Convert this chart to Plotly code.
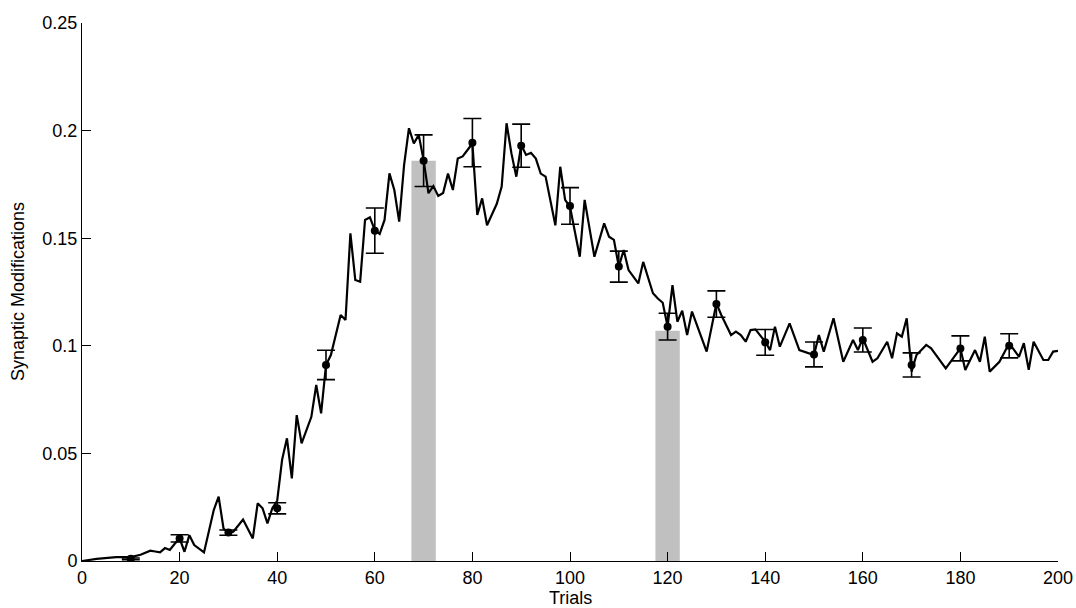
import plotly.graph_objects as go

# Mean synaptic modification per trial
trials = [0, 3, 7, 10, 12, 14, 15, 16, 17, 18, 19, 20, 21, 22, 23, 24, 25,
          27, 28, 29, 30, 31, 33, 35, 36, 37, 38, 39, 40, 41, 42, 43, 44, 45,
          47, 48, 49, 50, 51, 53, 54, 55, 56, 57, 58, 59, 60, 61, 62, 63, 64,
          65, 66, 67, 68, 69, 70, 71, 72, 73, 74, 75, 76, 77, 78, 79, 80, 81,
          82, 83, 85, 86, 87, 88, 89, 90, 91, 92, 93, 94, 95, 97, 98, 99, 100,
          102, 103, 105, 107, 108, 109, 110, 111, 112, 114, 115, 117, 118, 119,
          120, 121, 122, 123, 124, 125, 128, 130, 131, 133, 134, 135, 136, 137,
          138, 140, 141, 142, 143, 145, 147, 148, 150, 151, 152, 154, 156, 158,
          159, 160, 162, 163, 165, 166, 167, 168, 169, 170, 171, 173, 174, 177,
          179, 180, 181, 183, 184, 185, 186, 188, 190, 192, 193, 194, 195, 197,
          198, 199, 200]
modification = [0.0, 0.001, 0.0018, 0.0018, 0.0029, 0.0048, 0.0044, 0.004,
                0.006, 0.0051, 0.008, 0.0105, 0.0043, 0.012, 0.0074, 0.0059,
                0.004, 0.0237, 0.0299, 0.0151, 0.0131, 0.0136, 0.0193, 0.0105,
                0.0268, 0.0245, 0.0175, 0.0245, 0.028, 0.047, 0.057, 0.0384,
                0.0678, 0.0547, 0.067, 0.0818, 0.0686, 0.0911, 0.0957, 0.1143,
                0.112, 0.1523, 0.1306, 0.1298, 0.1585, 0.1597, 0.1538, 0.152,
                0.1585, 0.1801, 0.1724, 0.1577, 0.184, 0.2011, 0.194, 0.198,
                0.1863, 0.1709, 0.1742, 0.1696, 0.171, 0.180, 0.1724, 0.187,
                0.188, 0.191, 0.194, 0.1608, 0.1685, 0.156, 0.166, 0.174,
                0.2034, 0.1894, 0.1786, 0.1933, 0.1887, 0.1897, 0.187, 0.180,
                0.1786, 0.156, 0.1832, 0.1678, 0.1646, 0.1414, 0.1678, 0.1414,
                0.1569, 0.1507, 0.1492, 0.1368, 0.1445, 0.1352, 0.129, 0.139,
                0.1244, 0.122, 0.12, 0.1089, 0.1282, 0.1112, 0.1163, 0.105,
                0.1159, 0.0973, 0.1197, 0.1143, 0.105, 0.1066, 0.105, 0.1019,
                0.1073, 0.1076, 0.1019, 0.098, 0.1089, 0.0996, 0.1104, 0.098,
                0.0973, 0.0957, 0.105, 0.0973, 0.1128, 0.0926, 0.1027, 0.098,
                0.1035, 0.0926, 0.0942, 0.1019, 0.0942, 0.1058, 0.1042, 0.1128,
                0.088, 0.0957, 0.1004, 0.0988, 0.0895, 0.0957, 0.0988, 0.0888,
                0.098, 0.0926, 0.1042, 0.088, 0.0926, 0.1012, 0.0949, 0.1012,
                0.0888, 0.1019, 0.0934, 0.0934, 0.0973, 0.0976]

# Sampled means with their error bars, every 10 trials
sample_trials = [10, 20, 30, 40, 50, 60, 70, 80, 90, 100, 110, 120, 130,
                 140, 150, 160, 170, 180, 190]
sample_mean = [0.001, 0.0105, 0.0132, 0.0245, 0.0911, 0.1535, 0.186, 0.1944,
               0.193, 0.165, 0.1368, 0.1089, 0.1194, 0.1016, 0.096, 0.1027,
               0.0911, 0.0988, 0.1]
sample_err = [0.0004, 0.0017, 0.0012, 0.0026, 0.0068, 0.0105, 0.012, 0.0112,
              0.01, 0.0085, 0.0072, 0.0062, 0.0061, 0.006, 0.0058, 0.0056,
              0.0056, 0.0058, 0.0056]

# Highlighted trial windows
window_trials = [70, 120]
window_height = [0.186, 0.107]

x_ticks = [0, 20, 40, 60, 80, 100, 120, 140, 160, 180, 200]
y_ticks = [0, 0.05, 0.1, 0.15, 0.2, 0.25]
y_tick_text = ["0", "0.05", "0.1", "0.15", "0.2", "0.25"]

fig = go.Figure()

fig.add_trace(go.Bar(
    x=window_trials, y=window_height, width=5,
    marker=dict(color="#c0c0c0", line=dict(width=0)),
    hoverinfo="skip",
))

fig.add_trace(go.Scatter(
    x=trials, y=modification, mode="lines",
    line=dict(color="black", width=2.2),
))

fig.add_trace(go.Scatter(
    x=sample_trials, y=sample_mean, mode="markers",
    marker=dict(color="black", size=8),
    error_y=dict(type="data", array=sample_err, color="black",
                 thickness=1.6, width=9),
))

axis_font = dict(family="Liberation Sans, Arial, sans-serif", size=18, color="black")

fig.update_layout(
    width=1076, height=608,
    margin=dict(l=82, r=18, t=23, b=47),
    paper_bgcolor="white", plot_bgcolor="white",
    showlegend=False,
    font=axis_font,
    xaxis=dict(
        range=[0, 200], tickvals=x_ticks, ticks="inside", ticklen=9,
        tickcolor="black", showline=True, linecolor="black", linewidth=1,
        showgrid=False, zeroline=False, tickfont=axis_font, automargin=False,
    ),
    yaxis=dict(
        range=[0, 0.25], tickvals=y_ticks, ticktext=y_tick_text,
        ticks="inside", ticklen=9, tickcolor="black", showline=True,
        linecolor="black", linewidth=1, showgrid=False, zeroline=False,
        tickfont=axis_font, automargin=False,
    ),
    annotations=[
        dict(text="Trials", xref="paper", yref="paper", x=0.5, y=0,
             xanchor="center", yanchor="top", yshift=-25, showarrow=False,
             font=axis_font),
        dict(text="Synaptic Modifications", xref="paper", yref="paper",
             x=0, y=0.5, xanchor="center", yanchor="middle", xshift=-64,
             textangle=-90, showarrow=False, font=axis_font),
    ],
)

fig.write_html("out.html")
